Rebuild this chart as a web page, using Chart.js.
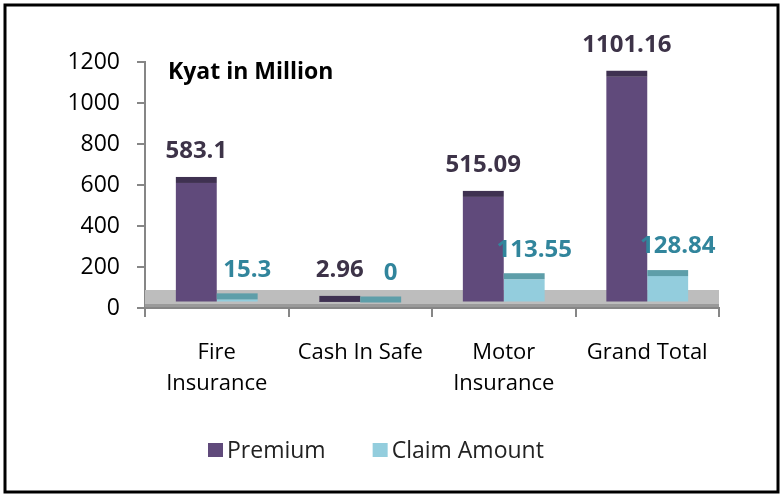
<!DOCTYPE html>
<html>
<head>
<meta charset="utf-8">
<script src="https://cdn.jsdelivr.net/npm/chart.js@4.4.0/dist/chart.umd.min.js"></script>
<style>
  html, body { margin: 0; padding: 0; background: #fff; }
  #wrap { width: 783px; height: 496px; }
</style>
</head>
<body>
<div id="wrap"><canvas id="chart"></canvas></div>
<script>
var categories = [['Fire', 'Insurance'], 'Cash In Safe', ['Motor', 'Insurance'], 'Grand Total'];
var premium = [583.1, 2.96, 515.09, 1101.16];
var claimAmount = [15.3, 0, 113.55, 128.84];
var premiumLabels = ['583.1', '2.96', '515.09', '1101.16'];
var claimLabels = ['15.3', '0', '113.55', '128.84'];
var yMin = 0, yMax = 1200, yStep = 200;
var unitTitle = 'Kyat in Million';

var FONT = '"Open Sans", Lato, sans-serif';
var DEPTH = 6;   // height of the dark top face
var LIFT = 5.5;  // 3d lift of the bars off the axis

// white page + black frame, the grey floor, and the 3d look of the bars
var decor = {
    id: 'decor',
    beforeDraw: function (chart) {
        var c = chart.ctx;
        c.save();
        c.fillStyle = '#fff';
        c.fillRect(0, 0, chart.width, chart.height);
        c.strokeStyle = '#000';
        c.lineWidth = 3;
        c.strokeRect(5, 5, chart.width - 10, chart.height - 9);
        c.restore();
    },
    beforeDatasetsDraw: function (chart) {
        var c = chart.ctx, a = chart.chartArea;
        var y0 = chart.scales.y.getPixelForValue(0);
        c.save();
        c.fillStyle = '#bdbdbd';
        c.fillRect(a.left, y0 - 18, a.right - a.left, 14);
        c.fillStyle = '#9a9a9a';
        c.fillRect(a.left, y0 - 4, a.right - a.left, 3);
        c.restore();
        c.save();
        c.translate(0, -LIFT);
    },
    afterDatasetsDraw: function (chart) {
        var c = chart.ctx;
        var tops = ['#3f3151', '#5e9ea9'];
        chart.data.datasets.forEach(function (ds, i) {
            chart.getDatasetMeta(i).data.forEach(function (el) {
                c.fillStyle = tops[i];
                c.fillRect(el.x - el.width / 2, el.y - DEPTH, el.width, DEPTH);
            });
        });
        c.restore();

        // value labels
        c.save();
        c.font = 'bold 24px ' + FONT;
        c.textAlign = 'center';
        c.textBaseline = 'middle';
        chart.getDatasetMeta(0).data.forEach(function (el, j) {
            c.fillStyle = '#3d3348';
            c.fillText(premiumLabels[j], el.x, el.y - 37);
        });
        chart.getDatasetMeta(1).data.forEach(function (el, j) {
            c.fillStyle = '#31859c';
            c.fillText(claimLabels[j], el.x + 10, el.y - 35);
        });
        c.restore();
    },
    afterDraw: function (chart) {
        var c = chart.ctx, a = chart.chartArea;
        c.save();
        c.fillStyle = '#000';
        c.font = 'bold 23px ' + FONT;
        c.textBaseline = 'middle';
        c.fillText(unitTitle, a.left + 23, 72);

        // legend
        c.font = '23px ' + FONT;
        var x = 208, y = 450;
        chart.data.datasets.forEach(function (ds) {
            c.fillStyle = ds.backgroundColor;
            c.fillRect(x, y - 7, 15, 14);
            c.fillStyle = '#222';
            c.fillText(ds.label, x + 19, y + 1);
            x += 19 + c.measureText(ds.label).width + 47;
        });
        c.restore();
    }
};

new Chart(document.getElementById('chart'), {
    type: 'bar',
    data: {
        labels: categories,
        datasets: [{
            label: 'Premium',
            data: premium,
            backgroundColor: '#604a7b'
        }, {
            label: 'Claim Amount',
            data: claimAmount,
            backgroundColor: '#93cddd'
        }]
    },
    options: {
        responsive: true,
        maintainAspectRatio: false,
        animation: false,
        layout: { padding: { top: 62, right: 64, left: 0, bottom: 78 } },
        datasets: { bar: { categoryPercentage: 0.57, barPercentage: 1 } },
        plugins: {
            legend: { display: false },
            tooltip: { enabled: false }
        },
        scales: {
            x: {
                grid: { drawOnChartArea: false, tickLength: 9, color: '#868686', lineWidth: 2 },
                border: { color: '#868686', width: 2 },
                ticks: { color: '#000', font: { family: FONT, size: 22, lineHeight: 1.41 }, padding: 20, maxRotation: 0 },
                afterFit: function (s) { s.height = 110; }
            },
            y: {
                min: yMin,
                max: yMax,
                grid: { drawOnChartArea: false, tickLength: 8, color: '#868686', lineWidth: 2 },
                border: { color: '#868686', width: 2 },
                ticks: {
                    stepSize: yStep, color: '#000', font: { family: FONT, size: 23 }, padding: 17,
                    callback: function (v) { return String(v); }
                },
                afterFit: function (s) { s.width = 145; }
            }
        }
    },
    plugins: [decor]
});
</script>
</body>
</html>
